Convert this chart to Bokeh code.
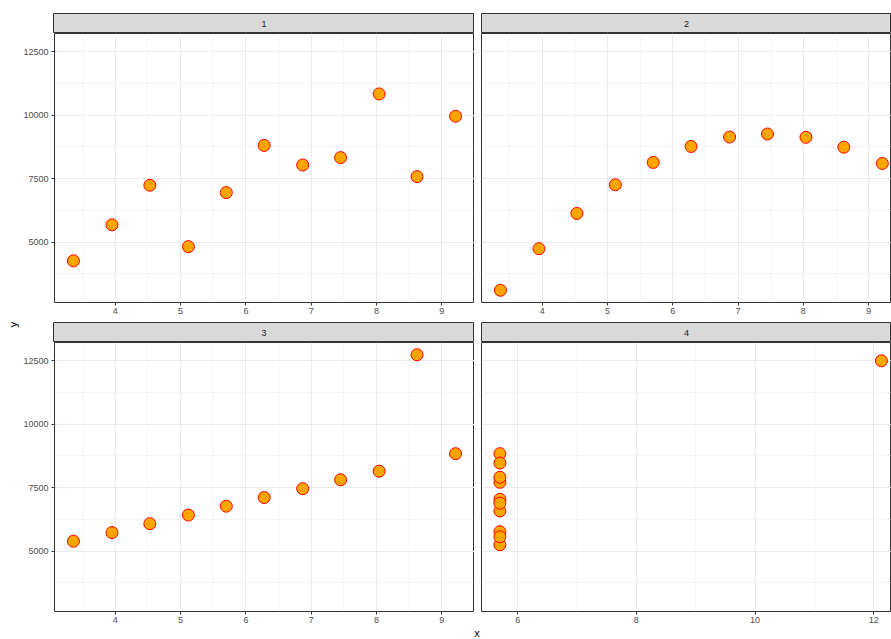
import math
from bokeh.plotting import figure
from bokeh.layouts import row, column
from bokeh.models import Range1d, FixedTicker
from bokeh.core.properties import value
from bokeh.embed import file_html
from bokeh.resources import INLINE

# ---------------- data ----------------
facet_labels = ["1", "2", "3", "4"]
x_123 = [3.36, 3.95, 4.53, 5.12, 5.70, 6.28, 6.87, 7.45, 8.04, 8.62, 9.21]
y_1 = [4260, 5680, 7240, 4820, 6950, 8810, 8040, 8330, 10840, 7580, 9960]
y_2 = [3100, 4740, 6130, 7260, 8140, 8770, 9140, 9260, 9130, 8740, 8100]
y_3 = [5390, 5730, 6080, 6420, 6770, 7110, 7460, 7810, 8150, 12740, 8840]
x_4 = [5.70, 5.70, 5.70, 5.70, 5.70, 5.70, 5.70, 5.70, 5.70, 5.70, 12.13]
y_4 = [6580, 5760, 7710, 8840, 8470, 7040, 5250, 5560, 7910, 6890, 12500]

x_ticks_a = [4, 5, 6, 7, 8, 9]
x_minor_a = [3.5, 4.5, 5.5, 6.5, 7.5, 8.5, 9.5]
x_ticks_b = [6, 8, 10, 12]
x_minor_b = [5, 7, 9, 11]
y_ticks = [5000, 7500, 10000, 12500]
y_minor = [3750, 6250, 8750, 11250]
y_title = "y"
x_title = "x"

# ---------------- style ----------------
FONT = "Liberation Sans"
GRID = "#EBEBEB"
BORDER = "#333333"
STRIP = "#D9D9D9"

all_y = y_1 + y_2 + y_3 + y_4
ypad = 0.05 * (max(all_y) - min(all_y))
Y_RANGE = (min(all_y) - ypad, max(all_y) + ypad)

YLAB_W = 20       # room for the y title
LEFT_AX = 33      # room for y tick labels
GAP = 7           # panel spacing
W_LEFT = 421      # frame width of left panels
W_RIGHT = 410     # frame width of right panels (cut at the page edge)
FRAME_H = 269
STRIP_H = 20
TOP = 13
BOT1 = 20
BOT2 = 15
XLAB_H = 13


def strip(label, left, w, top):
    s = figure(width=left + w, height=top + STRIP_H,
               x_range=Range1d(0, 1), y_range=Range1d(0, 1),
               x_axis_location=None, y_axis_location=None,
               output_backend="svg", toolbar_location=None,
               min_border_left=left, min_border_right=0,
               min_border_top=top, min_border_bottom=0)
    s.xgrid.visible = False
    s.ygrid.visible = False
    s.background_fill_color = STRIP
    s.border_fill_color = "white"
    s.outline_line_color = BORDER
    s.outline_line_width = 1
    s.text(x=[0.5], y=[0.5], text=[label], text_align="center",
           text_baseline="middle", text_font=value(FONT),
           text_font_size="9px", text_color="#1A1A1A")
    return s


def panel(xs, ys, xr, xt, xm, left, w, bottom, show_y):
    p = figure(width=left + w, height=FRAME_H + bottom,
               x_range=Range1d(*xr), y_range=Range1d(*Y_RANGE),
               y_axis_location="left" if show_y else None,
               output_backend="svg", toolbar_location=None,
               min_border_left=left, min_border_right=0,
               min_border_top=0, min_border_bottom=bottom)
    p.background_fill_color = "white"
    p.border_fill_color = "white"
    p.outline_line_color = BORDER
    p.outline_line_width = 1

    p.xaxis.ticker = FixedTicker(ticks=xt, minor_ticks=xm)
    p.xgrid.ticker = FixedTicker(ticks=xt, minor_ticks=xm)
    p.ygrid.ticker = FixedTicker(ticks=y_ticks, minor_ticks=y_minor)
    for g in (p.xgrid, p.ygrid):
        g.grid_line_color = GRID
        g.grid_line_width = 1
        g.minor_grid_line_color = GRID
        g.minor_grid_line_width = 0.5

    axes = [p.xaxis[0]]
    if show_y:
        p.yaxis.ticker = FixedTicker(ticks=y_ticks, minor_ticks=y_minor)
        axes.append(p.yaxis[0])
    for ax in axes:
        ax.axis_line_color = None
        ax.major_tick_line_color = BORDER
        ax.major_tick_out = 3
        ax.major_tick_in = 0
        ax.minor_tick_line_color = None
        ax.major_label_standoff = 2
        ax.major_label_text_font = FONT
        ax.major_label_text_font_size = "9px"
        ax.major_label_text_color = "#4D4D4D"
    p.xaxis.major_label_standoff = 1

    p.scatter(xs, ys, size=12, fill_color="orange", line_color="red",
              line_width=1)
    return p


s1 = strip(facet_labels[0], LEFT_AX, W_LEFT, TOP)
s2 = strip(facet_labels[1], GAP, W_RIGHT, TOP)
p1 = panel(x_123, y_1, (3.07, 9.50), x_ticks_a, x_minor_a, LEFT_AX, W_LEFT, BOT1, True)
p2 = panel(x_123, y_2, (3.07, 9.35), x_ticks_a, x_minor_a, GAP, W_RIGHT, BOT1, False)
s3 = strip(facet_labels[2], LEFT_AX, W_LEFT, 0)
s4 = strip(facet_labels[3], GAP, W_RIGHT, 0)
p3 = panel(x_123, y_3, (3.07, 9.50), x_ticks_a, x_minor_a, LEFT_AX, W_LEFT, BOT2, True)
p4 = panel(x_4, y_4, (5.39, 12.30), x_ticks_b, x_minor_b, GAP, W_RIGHT, BOT2, False)

total_w = YLAB_W + LEFT_AX + W_LEFT + GAP + W_RIGHT
total_h = (TOP + STRIP_H) + (FRAME_H + BOT1) + STRIP_H + (FRAME_H + BOT2) + XLAB_H

ylab = figure(width=YLAB_W, height=total_h, x_range=Range1d(0, 1),
              y_range=Range1d(0, 1), x_axis_location=None,
              y_axis_location=None, output_backend="svg",
              toolbar_location=None, min_border=0)
ylab.xgrid.visible = False
ylab.ygrid.visible = False
ylab.outline_line_color = None
ylab.text(x=[0.5], y=[0.5], text=[y_title], angle=math.pi / 2,
          x_offset=2, y_offset=4.5,
          text_align="center", text_baseline="middle",
          text_font=value(FONT), text_font_size="11.5px", text_color="black")

xlab = figure(width=total_w - YLAB_W, height=XLAB_H, x_range=Range1d(0, 1),
              y_range=Range1d(0, 1), x_axis_location=None,
              y_axis_location=None, output_backend="svg",
              toolbar_location=None, min_border=0)
xlab.xgrid.visible = False
xlab.ygrid.visible = False
xlab.outline_line_color = None
xlab.text(x=[0.5], y=[0.5], text=[x_title], x_offset=21,
          text_align="center", text_baseline="middle",
          text_font=value(FONT), text_font_size="11px", text_color="black")

layout = row(ylab, column(row(s1, s2), row(p1, p2), row(s3, s4), row(p3, p4), xlab))

open("out.html", "w").write(file_html(layout, INLINE))
